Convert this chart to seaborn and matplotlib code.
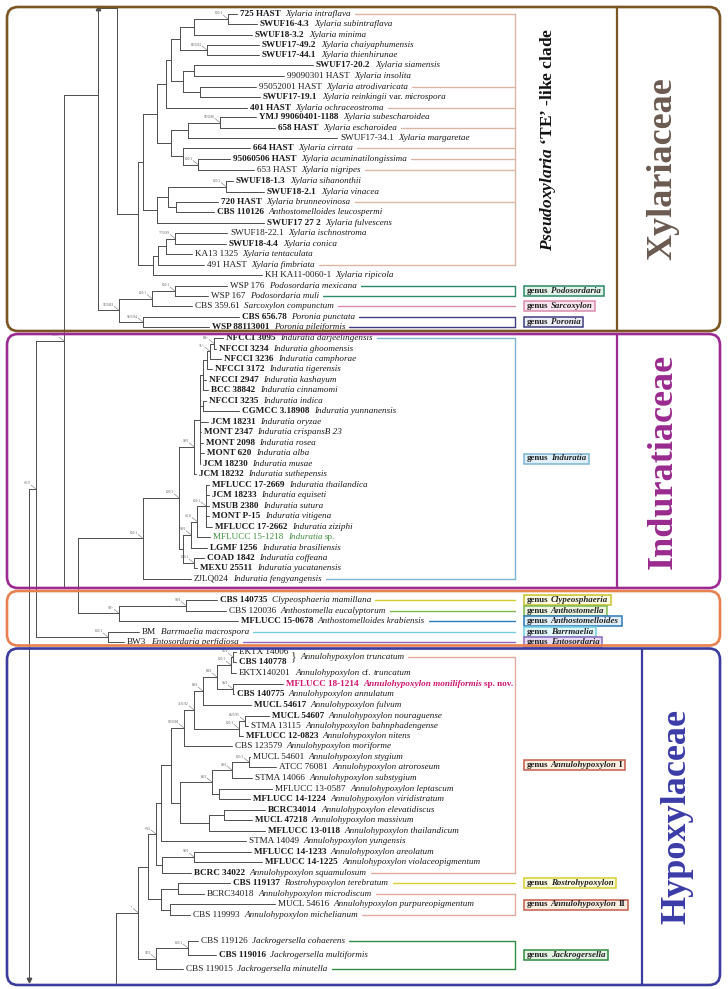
import matplotlib
matplotlib.use("Agg")
import pandas as pd
import matplotlib.pyplot as plt
import seaborn as sns
from matplotlib.patches import FancyBboxPatch, Rectangle

# ---------------- leaves, top to bottom ----------------
strains = [
    "725 HAST", "SWUF16-4.3", "SWUF18-3.2", "SWUF17-49.2", "SWUF17-44.1",
    "SWUF17-20.2", "99090301 HAST", "95052001 HAST", "SWUF17-19.1", "401 HAST",
    "YMJ 99060401-1188", "658 HAST", "SWUF17-34.1", "664 HAST", "95060506 HAST",
    "653 HAST", "SWUF18-1.3", "SWUF18-2.1", "720 HAST", "CBS 110126",
    "SWUF17 27 2", "SWUF18-22.1", "SWUF18-4.4", "KA13 1325", "491 HAST",
    "KH KA11-0060-1", "WSP 176", "WSP 167", "CBS 359.61", "CBS 656.78",
    "WSP 88113001",
    "NFCCI 3095", "NFCCI 3234", "NFCCI 3236", "NFCCI 3172", "NFCCI 2947",
    "BCC 38842", "NFCCI 3235", "CGMCC 3.18908", "JCM 18231", "MONT 2347",
    "MONT 2098", "MONT 620", "JCM 18230", "JCM 18232", "MFLUCC 17-2669",
    "JCM 18233", "MSUB 2380", "MONT P-15", "MFLUCC 17-2662", "MFLUCC 15-1218",
    "LGMF 1256", "COAD 1842", "MEXU 25511", "ZJLQ024",
    "CBS 140735", "CBS 120036", "MFLUCC 15-0678", "BM", "BW3",
    "EKTX 14006", "CBS 140778", "EKTX140201", "MFLUCC 18-1214", "CBS 140775",
    "MUCL 54617", "MUCL 54607", "STMA 13115", "MFLUCC 12-0823", "CBS 123579",
    "MUCL 54601", "ATCC 76081", "STMA 14066", "MFLUCC 13-0587", "MFLUCC 14-1224",
    "BCRC34014", "MUCL 47218", "MFLUCC 13-0118", "STMA 14049", "MFLUCC 14-1233",
    "MFLUCC 14-1225", "BCRC 34022", "CBS 119137", "BCRC34018", "MUCL 54616",
    "CBS 119993", "CBS 119126", "CBS 119016", "CBS 119015",
]

species = [
    "Xylaria intraflava", "Xylaria subintraflava", "Xylaria minima",
    "Xylaria chaiyaphumensis", "Xylaria thienhirunae", "Xylaria siamensis",
    "Xylaria insolita", "Xylaria atrodivaricata", "Xylaria reinkingii var. microspora",
    "Xylaria ochraceostroma", "Xylaria subescharoidea", "Xylaria escharoidea",
    "Xylaria margaretae", "Xylaria cirrata", "Xylaria acuminatilongissima",
    "Xylaria nigripes", "Xylaria sihanonthii", "Xylaria vinacea",
    "Xylaria brunneovinosa", "Anthostomelloides leucospermi", "Xylaria fulvescens",
    "Xylaria ischnostroma", "Xylaria conica", "Xylaria tentaculata",
    "Xylaria fimbriata", "Xylaria ripicola", "Podosordaria mexicana",
    "Podosordaria muli", "Sarcoxylon compunctum", "Poronia punctata",
    "Poronia pileiformis",
    "Induratia darjeelingensis", "Induratia ghoomensis", "Induratia camphorae",
    "Induratia tigerensis", "Induratia kashayum", "Induratia cinnamomi",
    "Induratia indica", "Induratia yunnanensis", "Induratia oryzae",
    "Induratia crispansB 23", "Induratia rosea", "Induratia alba",
    "Induratia musae", "Induratia suthepensis", "Induratia thailandica",
    "Induratia equiseti", "Induratia sutura", "Induratia vitigena",
    "Induratia ziziphi", "Induratia sp.", "Induratia brasiliensis",
    "Induratia coffeana", "Induratia yucatanensis", "Induratia fengyangensis",
    "Clypeosphaeria mamillana", "Anthostomella eucalyptorum",
    "Anthostomelloides krabiensis", "Barrmaelia macrospora", "Entosordaria perfidiosa",
    "", "", "Annulohypoxylon cf. truncatum",
    "Annulohypoxylon moniliformis sp. nov.", "Annulohypoxylon annulatum",
    "Annulohypoxylon fulvum", "Annulohypoxylon nouraguense",
    "Annulohypoxylon bahnphadengense", "Annulohypoxylon nitens",
    "Annulohypoxylon moriforme", "Annulohypoxylon stygium",
    "Annulohypoxylon atroroseum", "Annulohypoxylon substygium",
    "Annulohypoxylon leptascum", "Annulohypoxylon viridistratum",
    "Annulohypoxylon elevatidiscus", "Annulohypoxylon massivum",
    "Annulohypoxylon thailandicum", "Annulohypoxylon yungensis",
    "Annulohypoxylon areolatum", "Annulohypoxylon violaceopigmentum",
    "Annulohypoxylon squamulosum", "Rostrohypoxylon terebratum",
    "Annulohypoxylon microdiscum", "Annulohypoxylon purpureopigmentum",
    "Annulohypoxylon michelianum", "Jackrogersella cohaerens",
    "Jackrogersella multiformis", "Jackrogersella minutella",
]

bold = [
    1, 1, 1, 1, 1, 1, 0, 0, 1, 1, 1, 1, 0, 1, 1, 0, 1, 1, 1, 1,
    1, 0, 1, 0, 0, 0, 0, 0, 0, 1, 1,
    1, 1, 1, 1, 1, 1, 1, 1, 1, 1, 1, 1, 1, 1, 1, 1, 1, 1, 1, 0, 1, 1, 1, 0,
    1, 0, 1, 0, 0,
    0, 1, 0, 1, 1, 1, 1, 0, 1, 0, 0, 0, 0, 0, 1, 1, 1, 1, 0, 1,
    1, 1, 1, 0, 0, 0, 0, 1, 0,
]

tip_x = [
    237, 257, 252, 259, 259, 313, 284, 256, 260, 247,
    256, 275, 337, 250, 230, 254, 233, 264, 218, 214,
    264, 227, 226, 192, 204, 262, 227, 208, 192, 239,
    209,
    223, 216, 221, 212, 206, 208, 206, 239, 208, 201,
    203, 204, 200, 196, 209, 209, 209, 209, 212, 210,
    207, 204, 197, 191,
    217, 226, 238, 139, 124,
    236, 236, 236, 283, 234, 251, 269, 248, 243, 232,
    250, 276, 252, 272, 250, 265, 252, 265, 246, 251,
    262, 191, 230, 204, 275, 190, 198, 216, 183,
]

leaf_y = [
    14, 24, 35, 45, 55, 65, 76, 87, 97, 108,
    117, 128, 138, 148, 159, 170, 181, 192, 202, 212,
    223, 233, 244, 254, 265, 275, 286, 296, 306, 317,
    327,
    338, 349, 359, 369, 380, 390, 401, 411, 422, 432,
    443, 453, 464, 474, 485, 495, 506, 516, 527, 537,
    548, 558, 568, 579,
    600, 611, 621, 632, 642,
    652, 662, 673, 684, 694, 705, 716, 726, 736, 746,
    757, 767, 778, 789, 799, 810, 820, 831, 841, 852,
    862, 873, 883, 894, 904, 915, 941, 955, 969,
]

# ---------------- tree: node -> (depth, children, support) ----------------
nodes = {
    "N1": (228, [0, 1], "100/1"),
    "N2": (194, ["N1", 2], ""),
    "N4": (207, [3, 4], "82/0.92"),
    "N3": (180, ["N2", "N4"], ""),
    "N6": (194, [5, 6], ""),
    "N7": (200, [7, 8], ""),
    "N5": (183, ["N6", "N7"], ""),
    "N8": (171, ["N3", "N5"], ""),
    "N9": (166, ["N8", 9], ""),
    "N10": (220, [10, 11], "92/0.96"),
    "N11": (188, ["N10", 12], ""),
    "N12": (198, [14, 15], "100/1"),
    "N13": (183, [13, "N12"], ""),
    "N14": (171, ["N11", "N13"], ""),
    "N15": (157, ["N9", "N14"], ""),
    "N16": (226, [16, 17], "100/1"),
    "N17": (176, [18, 19], ""),
    "N18": (168, ["N16", "N17"], ""),
    "N19": (157, ["N18", 20], ""),
    "N20": (143, ["N15", "N19"], ""),
    "N21": (175, [21, 22], "77/0.99"),
    "N22": (166, ["N21", 23], ""),
    "N23": (158, ["N22", 24], ""),
    "N24": (153, ["N23", 25], ""),
    "N25": (138, ["N20", "N24"], ""),
    "N26": (117, ["N25"], ""),
    "N27": (175, [26, 27], "100/1"),
    "N28": (152, ["N27", 28], "100/1"),
    "N29": (143, [29, 30], "95/0.94"),
    "N30": (119, ["N28", "N29"], "92/0.83"),
    "N31": (98, ["N26", "N30"], ""),
    "I1": (214, [31, 32], "84/-"),
    "I2": (210, ["I1", 33], "71/-"),
    "I3": (207, ["I2", 34], ""),
    "I4": (203, ["I3", 35, 36], ""),
    "I5": (203, [37, 38], ""),
    "I6": (200, ["I4", "I5", 39, 40, 41, 42, 43], ""),
    "I7": (194, ["I6", 44], "99/1"),
    "I8": (206, [45, 46, 47, 48, 49], "100/1"),
    "I9": (197, ["I8", 50], "-/0.9"),
    "I10": (191, ["I9", 51], "98/1"),
    "I11": (194, [52, 53], "100/1"),
    "I12": (183, ["I10", "I11"], ""),
    "I13": (179, ["I7", "I12"], "100/1"),
    "I0": (143, ["I13", 54], "100/1"),
    "M1": (186, [55, 56], "98/1"),
    "M2": (119, ["M1", 57], "98/-"),
    "B1": (108, [58, 59], "100/1"),
    "N36": (78, ["I0", "M2"], ""),
    "N32": (64, ["N31", "N36"], "-/0.9"),
    "N33": (36, ["N32", "B1"], "-/0.9"),
    "N34": (29, ["N33"], ""),
    "H1": (233, [60, 61], "96/1"),
    "H2": (231, ["H1", 62], "100/1"),
    "H4": (233, [63, 64], "93/1"),
    "H3": (217, ["H2", "H4"], "84/1"),
    "H5": (203, ["H3", 65], "88/1"),
    "H8": (245, [66, 67], "86/0.95"),
    "H7": (239, ["H8", 68], "100/1"),
    "H6": (194, ["H5", "H7"], "31/0.92"),
    "H9": (184, ["H6", 69], "92/0.98"),
    "H12": (249, [70, 71], "100/1"),
    "H13": (232, ["H12", 72], "99/1"),
    "H14": (219, [73, 74], ""),
    "H15": (212, ["H13", "H14"], "83/1"),
    "H16": (224, [75, 76], ""),
    "H17": (209, ["H16", 77], ""),
    "H18": (180, ["H15", "H17"], ""),
    "H10": (171, ["H9", "H18"], ""),
    "H19": (161, ["H10", 78], ""),
    "H20": (194, [79, 80], "99/1"),
    "H21": (162, ["H20", 81], ""),
    "H22": (156, ["H19", "H21"], "-/93"),
    "H23": (178, [82, 83], ""),
    "H24": (170, [84, 85], ""),
    "H25": (161, ["H23", "H24"], ""),
    "H26": (148, ["H22", "H25"], ""),
    "H27": (188, [86, 87], "100/1"),
    "H28": (156, ["H27", 88], "92/1"),
    "H29": (138, ["H26", "H28"], "-/"),
    "H0": (116, ["H29"], ""),
}
# nodes whose attachment point is not the midpoint of their children
node_y_fixed = {"N26": 8, "N31": 95, "N36": 587}
# truncated branches running off the figure
node_ext = {"N31": 8, "N34": 980, "H0": 983}
node_arrow = {"N31": "^", "N34": "v"}

brace_leaves = (60, 61)
brace_species = "Annulohypoxylon truncatum"

# ---------------- genus groups ----------------
grp_genus = [None, "Podosordaria", "Sarcoxylon", "Poronia", "Induratia",
             "Clypeosphaeria", "Anthostomella", "Anthostomelloides", "Barrmaelia",
             "Entosordaria", "Annulohypoxylon", "Rostrohypoxylon",
             "Annulohypoxylon", "Jackrogersella"]
grp_suffix = ["", "", "", "", "", "", "", "", "", "", "I", "", "II", ""]
grp_members = [[0, 7, 9, 11, 13, 14, 15, 18, 24], [26, 27], [28], [29, 30],
               [31, 54], [55], [56], [57], [58], [59], [60, 81], [82],
               [83, 85], [86, 88]]
grp_line = ["#dcb5a4", "#2b8a68", "#d98aae", "#3d3d82", "#7db4d4", "#d2cb30",
            "#7db84c", "#2b7bba", "#74cfdc", "#8d69be", "#e2aaa0", "#d8d030",
            "#e2aaa0", "#2f8c42"]
grp_edge = ["#dcb5a4", "#2b8a68", "#d98aae", "#3d3d82", "#7db4d4", "#c9c228",
            "#7db84c", "#2b7bba", "#74cfdc", "#8d69be", "#c45c4c", "#d8d030",
            "#c45c4c", "#2f8c42"]
grp_fill = ["none", "#e3f3ea", "#fbe5ef", "#eeeef7", "#e0f0fa", "#fbfbe0",
            "#eef6e3", "#e2eef9", "#e2f7fa", "#e8ddf5", "#fbede0", "#fbfbe0",
            "#fbede0", "#e4f2e4"]

# ---------------- families ----------------
fam_names = ["Xylariaceae", "Induratiaceae", "", "Hypoxylaceae"]
fam_first = [0, 31, 55, 60]
fam_line = ["#7b5522", "#9c2a92", "#e8804f", "#3b3ba0"]
fam_text = ["#6b5a50", "#9a2a8e", "#e8804f", "#3b3ba8"]
fam_divider = [617, 617, None, 642]

# =========================================================
sns.set_theme(style="white")
plt.rcParams["font.family"] = ["Liberation Serif", "DejaVu Serif"]
plt.rcParams["mathtext.fontset"] = "custom"
plt.rcParams["mathtext.it"] = "Liberation Serif:italic:bold"
plt.rcParams["mathtext.rm"] = "Liberation Serif:bold"
plt.rcParams["mathtext.bf"] = "Liberation Serif:bold"

W, H = 728, 989
fig = plt.figure(figsize=(W / 100, H / 100), dpi=100)
ax = fig.add_axes([0, 0, 1, 1])


def ypos(k):
    if isinstance(k, int):
        return leaf_y[k]
    if k in node_y_fixed:
        return node_y_fixed[k]
    ys = [ypos(c) for c in nodes[k][1]]
    return (min(ys) + max(ys)) / 2


def xpos(k):
    return tip_x[k] if isinstance(k, int) else nodes[k][0]


rows = []
seg = 0
for name, (x, kids, sup) in nodes.items():
    kys = [ypos(c) for c in kids]
    span = kys + [ypos(name)] + ([node_ext[name]] if name in node_ext else [])
    rows += [(seg, x, min(span)), (seg, x, max(span))]
    seg += 1
    for c, cy in zip(kids, kys):
        rows += [(seg, x, cy), (seg, xpos(c), cy)]
        seg += 1
branches = pd.DataFrame(rows, columns=["seg", "x", "y"])

sns.lineplot(data=branches, x="x", y="y", units="seg", estimator=None, sort=False,
             color="#4d4d4d", linewidth=0.7, legend=False, ax=ax)

ax.set_xlim(0, W)
ax.set_ylim(H, 0)
ax.axis("off")

for name, m in node_arrow.items():
    ax.plot(nodes[name][0], node_ext[name], marker=m, ms=3.2, color="#4d4d4d", zorder=4)

# support values
for name, (x, kids, sup) in nodes.items():
    if sup:
        y = ypos(name)
        ax.plot([x - 5, x], [y - 4, y], color="#777777", lw=0.4)
        ax.text(x - 5, y - 3.5, sup, fontsize=2.6, color="#555555", ha="right", va="bottom")

# leaf labels
FS = 6.6
rend = fig.canvas.get_renderer()
inv = ax.transData.inverted()


def right_end(t):
    bb = t.get_window_extent(rend)
    return inv.transform((bb.x1, bb.y0))[0]


upright = {"var.", "cf.", "sp.", "nov."}
label_end = {}
link_y = {}
for i, s in enumerate(strains):
    col = "#1a1a1a"
    if i == 50:
        col = "#3a8f3a"
    if i == 63:
        col = "#d0146e"
    y = leaf_y[i]
    t = ax.text(tip_x[i] + 3, y, s, fontsize=FS, color=col, va="center",
                weight="bold" if bold[i] else "normal")
    xe = right_end(t)
    if species[i]:
        runs = []
        for w in species[i].split():
            it = w not in upright
            if runs and runs[-1][1] == it:
                runs[-1][0] += " " + w
            else:
                runs.append([w, it])
        xe += 4.5
        for txt, it in runs:
            tt = ax.text(xe, y, txt, fontsize=FS, color=col, va="center",
                         fontstyle="italic" if it else "normal",
                         weight="bold" if i == 63 else "normal")
            xe = right_end(tt) + 2.4
        xe -= 2.4
    label_end[i] = xe

# brace for the two truncatum strains
b0, b1 = brace_leaves
by = (leaf_y[b0] + leaf_y[b1]) / 2
bx = max(label_end[b0], label_end[b1]) + 3
tb = ax.text(bx, by, "}", fontsize=8.5, color="#333333", va="center")
ts = ax.text(right_end(tb) + 3, by, brace_species, fontsize=FS, color="#1a1a1a",
             va="center", fontstyle="italic")
label_end[b0] = right_end(ts)
link_y[b0] = by

# genus brackets and labels
BR_X = 515
GFS = 6.4
for g, members in enumerate(grp_members):
    ys = []
    for i in members:
        y = link_y.get(i, leaf_y[i])
        ax.plot([label_end[i] + 4, BR_X], [y, y], color=grp_line[g], lw=1.0, zorder=2)
        ys.append(y)
    if len(ys) > 1:
        ax.plot([BR_X, BR_X], [min(ys), max(ys)], color=grp_line[g], lw=1.0, zorder=2)
    if grp_genus[g]:
        yc = (min(ys) + max(ys)) / 2
        gx = BR_X + 12
        parts = [("genus", "normal"), (grp_genus[g], "italic"), (grp_suffix[g], "normal")]
        for txt, st in parts:
            if not txt:
                continue
            tg = ax.text(gx, yc, txt, fontsize=GFS, weight="bold", fontstyle=st,
                         color="#222222", va="center", ha="left", zorder=4)
            gx = right_end(tg) + 2.2
        gx -= 2.2
        ax.add_patch(Rectangle((BR_X + 9, yc - 5), gx - BR_X - 6, 10,
                               fc=grp_fill[g], ec=grp_edge[g], lw=1.1, zorder=3))

# clade label inside Xylariaceae
te = grp_members[0]
ax.text(548, (leaf_y[te[0]] + leaf_y[te[-1]]) / 2,
        "$\\mathit{Pseudoxylaria}$ \u2018TE\u2019 -like clade",
        fontsize=12.5, weight="bold", color="#111111", rotation=90,
        ha="center", va="center")

# family frames
bounds = [7]
for k in range(1, len(fam_first)):
    bounds.append((leaf_y[fam_first[k] - 1] + leaf_y[fam_first[k]]) / 2)
bounds.append(985)
X0, X1 = 7, 720
for k, name in enumerate(fam_names):
    top = bounds[k] + (0 if k == 0 else 1.5)
    bot = bounds[k + 1] - (0 if k == len(fam_names) - 1 else 1.5)
    ax.add_patch(FancyBboxPatch((X0, top), X1 - X0, bot - top,
                                boxstyle="round,pad=0,rounding_size=11",
                                fill=False, ec=fam_line[k], lw=1.9, zorder=5))
    dv = fam_divider[k]
    if dv:
        ax.plot([dv, dv], [top, bot], color=fam_line[k], lw=1.6, zorder=5)
        ax.text(dv + (X1 - dv) * 0.45, (top + bot) / 2, name, rotation=90,
                fontsize=26, weight="bold", color=fam_text[k],
                ha="center", va="center")

fig.savefig("out.png", dpi=100)
